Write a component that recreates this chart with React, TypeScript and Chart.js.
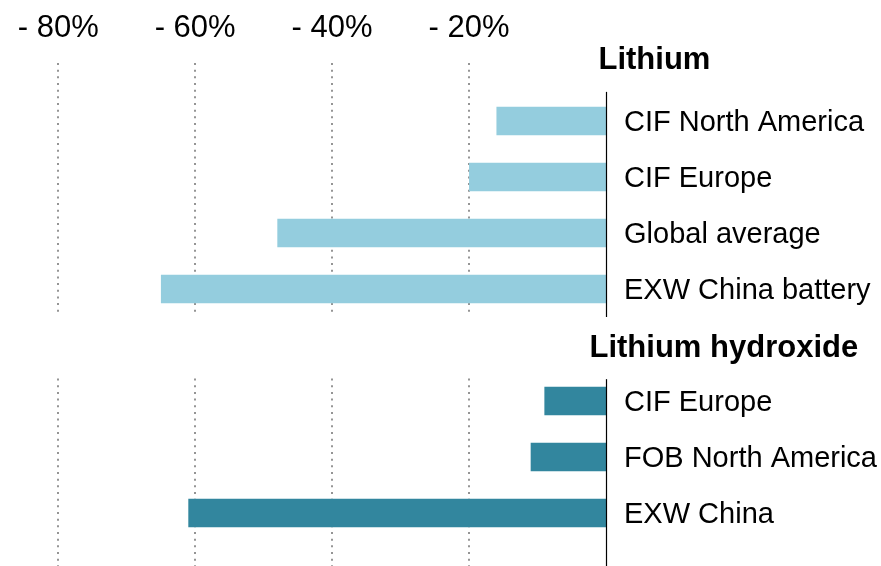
import React, { useEffect, useRef } from "react";
import { Chart, registerables } from "chart.js";

Chart.register(...registerables);

const sectionTitles = ["Lithium", "Lithium hydroxide"];
const lithiumCategories = ["CIF North America", "CIF Europe", "Global average", "EXW China battery"];
const lithiumValues = [-16, -20, -48, -65];
const hydroxideCategories = ["CIF Europe", "FOB North America", "EXW China"];
const hydroxideValues = [-9, -11, -61];
const tickValues = [-80, -60, -40, -20];
const lithiumColor = "#94CDDE";
const hydroxideColor = "#32869E";

const FONT = "'Liberation Sans', Arial, sans-serif";

export default function App() {
  const ref = useRef<HTMLCanvasElement | null>(null);

  useEffect(() => {
    if (!ref.current) return;
    const labels = ["", ...lithiumCategories, "", ...hydroxideCategories];
    const n1 = lithiumCategories.length;
    const liData = [null, ...lithiumValues, null, ...hydroxideCategories.map(() => null)];
    const hyData = [null, ...lithiumCategories.map(() => null), null, ...hydroxideValues];
    const header2 = n1 + 1;

    const overlay = {
      id: "overlay",
      beforeDatasetsDraw(chart: any) {
        const ctx = chart.ctx;
        const x = chart.scales.x;
        const y = chart.scales.y;
        const step = y.getPixelForValue(1) - y.getPixelForValue(0);
        const segs = [
          [y.getPixelForValue(0) - 2, y.getPixelForValue(n1) + 0.48 * step],
          [y.getPixelForValue(header2) + 0.6 * step, chart.height],
        ];
        ctx.save();
        ctx.strokeStyle = "#959595";
        ctx.lineWidth = 2;
        ctx.setLineDash([2, 4.67]);
        tickValues.forEach((v) => {
          const px = Math.round(x.getPixelForValue(v));
          segs.forEach(([a, b]) => {
            ctx.beginPath();
            ctx.moveTo(px, a);
            ctx.lineTo(px, b);
            ctx.stroke();
          });
        });
        ctx.restore();
      },
      afterDatasetsDraw(chart: any) {
        const ctx = chart.ctx;
        const x = chart.scales.x;
        const y = chart.scales.y;
        const step = y.getPixelForValue(1) - y.getPixelForValue(0);
        const zx = Math.round(x.getPixelForValue(0)) + 0.5;
        ctx.save();
        ctx.strokeStyle = "#000";
        ctx.lineWidth = 1.2;
        const segs = [
          [y.getPixelForValue(1) - 0.52 * step, y.getPixelForValue(n1) + 0.5 * step],
          [y.getPixelForValue(header2 + 1) - 0.39 * step, chart.height],
        ];
        segs.forEach(([a, b]) => {
          ctx.beginPath();
          ctx.moveTo(zx, a);
          ctx.lineTo(zx, b);
          ctx.stroke();
        });
        ctx.fillStyle = "#000";
        ctx.font = `bold 31px ${FONT}`;
        ctx.textAlign = "left";
        ctx.textBaseline = "alphabetic";
        ctx.fillText(sectionTitles[0], zx - 8, y.getPixelForValue(0) + 4);
        ctx.fillText(sectionTitles[1], zx - 17, y.getPixelForValue(header2) + 12);
        ctx.restore();
      },
    };

    const chart = new Chart(ref.current, {
      type: "bar",
      data: {
        labels,
        datasets: [
          {
            label: sectionTitles[0],
            data: liData as any,
            backgroundColor: lithiumColor,
            grouped: false,
            categoryPercentage: 1,
            barPercentage: 0.505,
          } as any,
          {
            label: sectionTitles[1],
            data: hyData as any,
            backgroundColor: hydroxideColor,
            grouped: false,
            categoryPercentage: 1,
            barPercentage: 0.505,
          } as any,
        ],
      },
      options: {
        indexAxis: "y",
        responsive: false,
        animation: false,
        devicePixelRatio: 1,
        layout: { padding: { top: 0, bottom: 25, left: 0, right: 0 } },
        plugins: { legend: { display: false }, tooltip: { enabled: false } },
        scales: {
          x: {
            position: "top",
            min: -88.5,
            max: 0,
            grid: { display: false, drawTicks: false },
            border: { display: false },
            afterFit: (s: any) => {
              s.height = 37;
            },
            ticks: {
              stepSize: 20,
              includeBounds: false,
              autoSkip: false,
              maxRotation: 0,
              padding: -2,
              color: "#000",
              font: { family: FONT, size: 31, lineHeight: 0.7 },
              callback: (v: any) => (tickValues.includes(Number(v)) ? `- ${Math.abs(Number(v))}%` : ""),
            },
          },
          y: {
            position: "right",
            grid: { display: false, drawTicks: false },
            border: { display: false },
            afterFit: (s: any) => {
              s.width = 275;
              s.paddingTop = 0;
              s.paddingBottom = 0;
            },
            ticks: {
              autoSkip: false,
              padding: 18,
              labelOffset: 1.5,
              color: "#000",
              font: { family: FONT, size: 29 },
            },
          },
        },
      },
      plugins: [overlay],
    });
    return () => chart.destroy();
  }, []);

  return (
    <div style={{ position: "absolute", left: 0, top: 0, width: 881, height: 566 }}>
      <canvas ref={ref} width={881} height={566} />
    </div>
  );
}
